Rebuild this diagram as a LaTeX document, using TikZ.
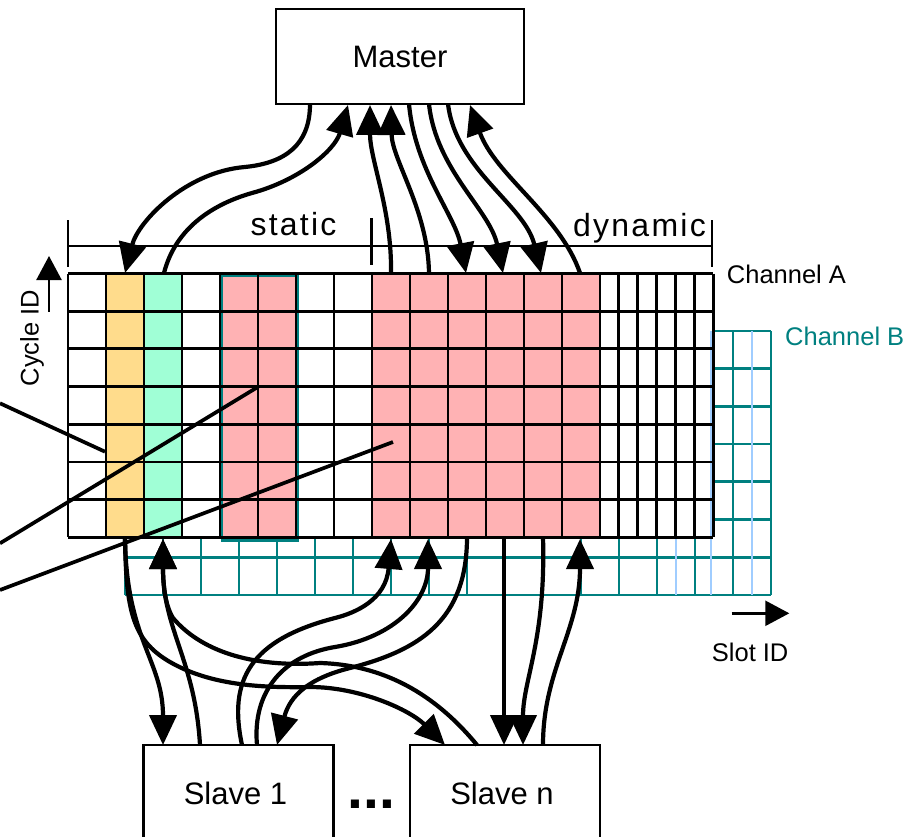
\documentclass[tikz,border=0pt]{standalone}
\usepackage{fontspec}
\setmainfont{Liberation Sans}
\newfontfamily\spacedfont{Liberation Sans}[LetterSpace=7]
\usetikzlibrary{arrows.meta}
\definecolor{chanteal}{RGB}{0,128,128}
\definecolor{lightblueline}{RGB}{160,205,255}
\definecolor{slotorange}{RGB}{255,220,140}
\definecolor{slotgreen}{RGB}{160,255,214}
\definecolor{slotpink}{RGB}{255,178,180}
\begin{document}
\begin{tikzpicture}[x=1pt,y=-1pt,
  box/.style={draw=black, line width=2.4pt, fill=white, inner sep=0pt,
    font=\fontsize{31}{36}\selectfont},
  link/.style={line width=4.2pt, -{Triangle[length=30pt,width=27pt]}},
  axisarrow/.style={line width=2.4pt, -{Triangle[length=24pt,width=25pt]}},
  lbl/.style={inner sep=0pt, font=\fontsize{25.5}{30}\selectfont},
  seglbl/.style={inner sep=0pt, font=\spacedfont\fontsize{32}{38}\selectfont},
  gridA/.style={line width=2.9pt, black},
  gridB/.style={line width=2.7pt, chanteal},
  subB/.style={line width=2.2pt, lightblueline},
  bracket/.style={line width=2.2pt},
  crossline/.style={line width=3.7pt}]

\useasboundingbox (0,0) rectangle (923,837);
\fill[white] (0,0) rectangle (923,837);

% ---------- channel B grid (behind channel A) ----------
\foreach \i in {0,...,7}
  \draw[gridB] (125,{331+37.7*\i}) -- (771,{331+37.7*\i});
\foreach \k in {0,...,17}
  \draw[gridB] ({125+38*\k},331) -- ({125+38*\k},595);
\foreach \x in {676,752}
  \draw[subB] (\x,331) -- (\x,595);

% ---------- channel A grid ----------
\fill[white] (68,273.5) rectangle (713.4,537.4);
\filldraw[fill=slotorange, draw=chanteal, line width=2pt] (106,273.5) rectangle (144,537.4);
\filldraw[fill=slotgreen, draw=chanteal, line width=2pt] (144,273.5) rectangle (182,537.4);
\fill[slotpink] (220,273.5) rectangle (296,537.4);
\draw[chanteal, line width=2.4pt] (222,276) rectangle (298,540.5);
\fill[slotpink] (372,273.5) rectangle (600,537.4);
\draw[subB] (711,331) -- (711,595);
\foreach \i in {0,...,7}
  \draw[gridA] (68,{273.5+37.7*\i}) -- (713.4,{273.5+37.7*\i});
\foreach \k in {0,...,14}
  \draw[gridA] ({68+38*\k},273.5) -- ({68+38*\k},537.4);
\foreach \j in {1,...,6}
  \draw[gridA] ({600+18.9*\j},273.5) -- ({600+18.9*\j},537.4);

% ---------- static / dynamic segments ----------
\coordinate (brL) at (68,245.7);
\coordinate (brM) at (371.5,245.7);
\coordinate (brR) at (712,245.7);
\draw[bracket] (brL) -- (brR);
\draw[bracket] (68,220) -- (68,267);
\draw[bracket] (371.5,218) -- (371.5,265);
\draw[bracket] (712,220) -- (712,267);
\node[seglbl, anchor=base] (static) at (293.5,235) {static};
\node[seglbl, anchor=base] (dynamic) at (639.5,236) {dynamic};

% ---------- labels and axes ----------
\node[lbl, anchor=base west] (chA) at (726.7,283.3) {Channel A};
\node[lbl, anchor=base west, text=chanteal] (chB) at (785,345) {Channel B};
\node[lbl, anchor=base west] (slot) at (711.7,661.7) {Slot ID};
\node[lbl, rotate=90, anchor=base] (cycle) at (38.5,338) {Cycle ID};
\coordinate (cyc0) at (49,311.7);
\coordinate (cyc1) at (49,256);
\draw[axisarrow] (cyc0) -- (cyc1);
\coordinate (slot0) at (731.7,613.3);
\coordinate (slot1) at (789.3,613.3);
\draw[axisarrow] (slot0) -- (slot1);

% ---------- crossing lines ----------
\coordinate (l1a) at (0,403.3);   \coordinate (l1b) at (105,451.7);
\coordinate (l2a) at (0,543.3);   \coordinate (l2b) at (258.3,386.7);
\coordinate (l3a) at (0,590);     \coordinate (l3b) at (393,442);
\draw[crossline] (l1a) -- (l1b);
\draw[crossline] (l2a) -- (l2b);
\draw[crossline] (l3a) -- (l3b);

% ---------- master and slaves ----------
\node[box, minimum width=248pt, minimum height=95pt] (master) at (400,56.5) {Master};
\node[box, minimum width=190pt, minimum height=96pt] (slave1) at (238.5,793) {Slave 1\hspace*{6pt}};
\node[box, minimum width=190pt, minimum height=96pt] (slaven) at (505,793) {Slave n\hspace*{6pt}};
\node[inner sep=0pt, font=\bfseries\fontsize{57}{60}\selectfont, anchor=base] (dots) at (371.7,808.5) {...};

% ports on the master
\coordinate (m1) at (310,104);
\coordinate (m2) at (348,105);
\coordinate (m3) at (370,105);
\coordinate (m4) at (391,105);
\coordinate (m5) at (409,104);
\coordinate (m6) at (429,104);
\coordinate (m7) at (448,104);
\coordinate (m8) at (470,105);
% ports on top of channel A
\coordinate (tO) at (125,273);
\coordinate (tG) at (164,273);
\coordinate (tP1) at (391,273);
\coordinate (tP2) at (429,273);
\coordinate (tP3) at (466,273);
\coordinate (tP4) at (503,273);
\coordinate (tP5) at (541,273);
\coordinate (tP6) at (580,273);
% ports below channel A
\coordinate (bO) at (125,537);
\coordinate (bG) at (163,539);
\coordinate (bP1) at (391,539);
\coordinate (bP2) at (428,539);
\coordinate (bP3) at (467,537);
\coordinate (bP4) at (504,537);
\coordinate (bP5) at (543,537);
\coordinate (bP6) at (580,539);
% ports on the slaves
\coordinate (s1a) at (163,745);
\coordinate (s1b) at (200,745);
\coordinate (s1c) at (242,745);
\coordinate (s1d) at (257,745);
\coordinate (s1e) at (277,745);
\coordinate (sna) at (445,745);
\coordinate (snb) at (477,745);
\coordinate (snc) at (504,745);
\coordinate (snd) at (523,745);
\coordinate (sne) at (543,745);

% ---------- master <-> slots ----------
\draw[link] (m1) .. controls (310,145) and (285,163) .. (245,167)
                 .. controls (185,172) and (138,222) .. (tO);
\draw[link] (tG) .. controls (175,230) and (210,205) .. (252,193)
                 .. controls (300,180) and (335,150) .. (m2);
\draw[link] (tP1) .. controls (392,210) and (370,160) .. (m3);
\draw[link] (tP2) .. controls (428,210) and (392,160) .. (m4);
\draw[link] (m5) .. controls (415,170) and (455,215) .. (tP3);
\draw[link] (m6) .. controls (436,170) and (490,210) .. (tP4);
\draw[link] (m7) .. controls (456,170) and (525,205) .. (tP5);
\draw[link] (tP6) .. controls (560,215) and (495,175) .. (m8);

% ---------- slots <-> slaves ----------
\draw[link] (bO) .. controls (126,640) and (163,660) .. (s1a);
\draw[link] (bO) .. controls (126,610) and (132,640) .. (170,662)
                 .. controls (210,685) and (260,688) .. (310,687)
                 .. controls (360,687) and (410,710) .. (sna);
\draw[link] (s1b) .. controls (195,660) and (163,630) .. (bG);
\draw[link] (snb) .. controls (440,700) and (390,665) .. (320,663)
                  .. controls (250,668) and (200,650) .. (173,618)
                  .. controls (165,605) and (163,585) .. (bG);
\draw[link] (s1c) .. controls (228,680) and (250,640) .. (335,618)
                  .. controls (355,613) and (386,600) .. (bP1);
\draw[link] (s1d) .. controls (252,690) and (285,655) .. (335,647)
                  .. controls (395,637) and (428,600) .. (bP2);
\draw[link] (bP3) .. controls (467,620) and (420,650) .. (350,668)
                  .. controls (310,678) and (290,695) .. (s1e);
\draw[link] (bP4) -- (snc);
\draw[link] (bP5) .. controls (546,640) and (523,680) .. (snd);
\draw[link] (sne) .. controls (543,670) and (580,630) .. (bP6);
\end{tikzpicture}
\end{document}
